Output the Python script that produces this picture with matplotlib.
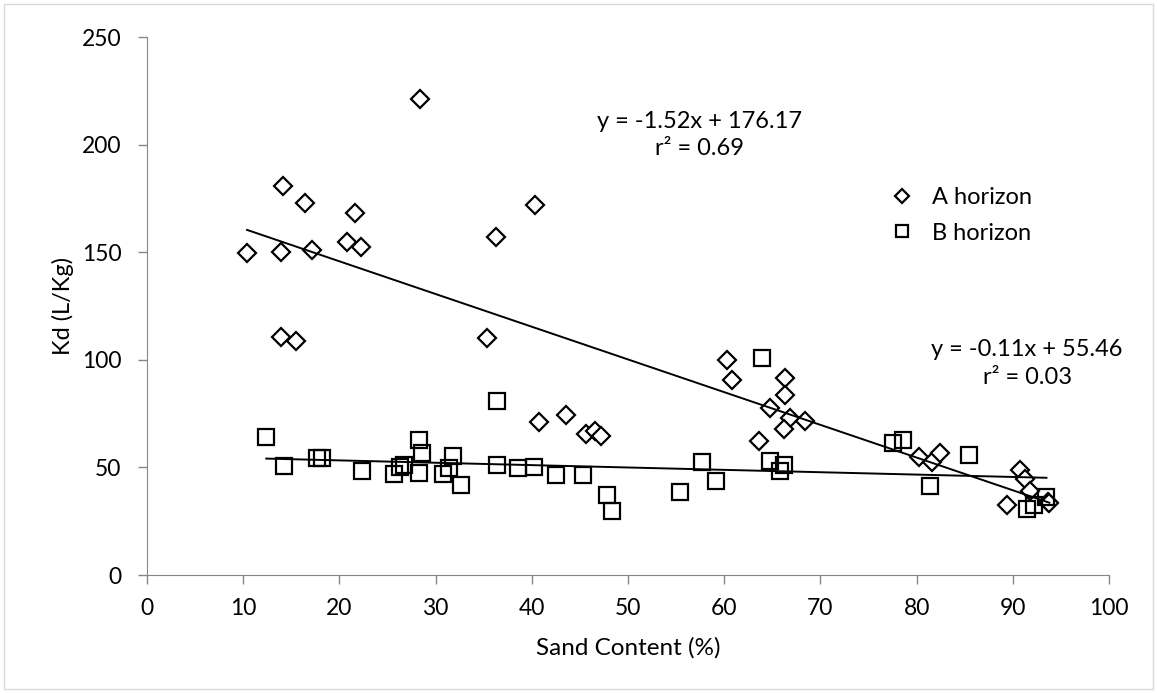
import matplotlib.pyplot as plt
import numpy as np

# A horizon (diamonds)
a_sand = [28.4, 14.1, 16.4, 21.6, 10.4, 13.9, 17.2, 20.8, 22.2, 36.3, 40.3,
          13.9, 15.5, 35.3, 40.8, 43.6, 45.6, 46.6, 47.2,
          60.3, 60.8, 66.3, 66.3, 64.8, 66.8, 68.4, 66.2, 63.6,
          80.2, 81.6, 82.4, 90.7, 91.3, 91.8, 89.4, 93.7, 93.8]
a_kd = [221.2, 180.9, 173.0, 168.2, 149.5, 150.2, 151.0, 154.6, 152.3, 157.1, 171.9,
        110.4, 108.7, 110.3, 71.0, 74.3, 65.5, 67.1, 64.7,
        99.8, 90.6, 91.5, 83.5, 77.6, 73.1, 71.7, 67.8, 62.1,
        54.7, 52.4, 56.8, 48.8, 44.6, 39.0, 32.7, 34.1, 33.3]

# B horizon (squares)
b_sand = [12.4, 14.2, 17.7, 18.2, 22.4, 25.7, 26.3, 26.7, 28.3, 28.6, 28.3,
          30.8, 31.4, 31.8, 32.6, 36.4, 36.4, 38.6, 40.2,
          42.5, 45.3, 47.8, 48.3, 55.4, 57.7, 59.1, 63.9, 64.8, 66.2, 65.8,
          77.5, 78.6, 85.4, 81.4, 93.5, 92.2, 91.5]
b_kd = [64.0, 50.6, 54.5, 54.5, 48.5, 46.8, 50.3, 51.1, 62.7, 56.5, 47.5,
        46.8, 49.9, 55.4, 41.8, 81.0, 51.3, 49.9, 50.3,
        46.6, 46.3, 37.2, 29.6, 38.4, 52.7, 43.5, 101.0, 53.0, 51.3, 48.5,
        61.5, 62.7, 55.6, 41.5, 36.4, 32.7, 30.7]

# trend lines as printed on the chart
a_slope, a_int = -1.52, 176.17
b_slope, b_int = -0.11, 55.46

plt.rcParams['font.family'] = ['Lato', 'DejaVu Sans']

fig = plt.figure(figsize=(11.57, 6.93), dpi=100)
ax = fig.add_axes([147 / 1157, 1 - 575 / 693, (1109 - 147) / 1157, (575 - 37) / 693])

ax.plot(a_sand, a_kd, linestyle='none', marker='D', ms=9, mfc='white',
        mec='black', mew=1.6, label='A horizon')
ax.plot(b_sand, b_kd, linestyle='none', marker='s', ms=11, mfc='none',
        mec='black', mew=1.6, label='B horizon')

xa = np.array([min(a_sand), max(a_sand)])
ax.plot(xa, a_slope * xa + a_int, color='black', lw=1.4)
xb = np.array([min(b_sand), max(b_sand)])
ax.plot(xb, b_slope * xb + b_int, color='black', lw=1.4)

ax.text(57.4, 204.5, 'y = -1.52x + 176.17\nr² = 0.69', ha='center', va='center',
        fontsize=17, linespacing=1.4)
ax.text(91.5, 98.3, 'y = -0.11x + 55.46\nr² = 0.03', ha='center', va='center',
        fontsize=17, linespacing=1.4)

ax.set_xlim(0, 100)
ax.set_ylim(0, 250)
ax.set_xticks(range(0, 101, 10))
ax.set_yticks(range(0, 251, 50))
ax.tick_params(labelsize=16.5, color='#868686', length=6.5, width=1)
ax.tick_params(axis='y', pad=12)
ax.tick_params(axis='x', pad=10)
for s in ['top', 'right']:
    ax.spines[s].set_visible(False)
for s in ['left', 'bottom']:
    ax.spines[s].set_color('#868686')
ax.set_xlabel('Sand Content (%)', fontsize=17.5, va='top')
ax.set_ylabel('Kd (L/Kg)', fontsize=17)
ax.xaxis.set_label_coords(0.5, -0.116)
ax.yaxis.set_label_coords(-0.076, 0.5)

ax.legend(loc='center left', bbox_to_anchor=((869 - 147) / 962, (575 - 215.5) / 538),
          frameon=False, fontsize=17, handlelength=1.0, handletextpad=0.75,
          labelspacing=0.6, borderpad=0.4, markerscale=0.75)

fig.patches.append(plt.Rectangle((4 / 1157, 4 / 693), 1 - 8 / 1157, 1 - 8 / 693,
                                 transform=fig.transFigure, fill=False,
                                 edgecolor='#d9d9d9', lw=1))

fig.savefig('out.png', dpi=100)
